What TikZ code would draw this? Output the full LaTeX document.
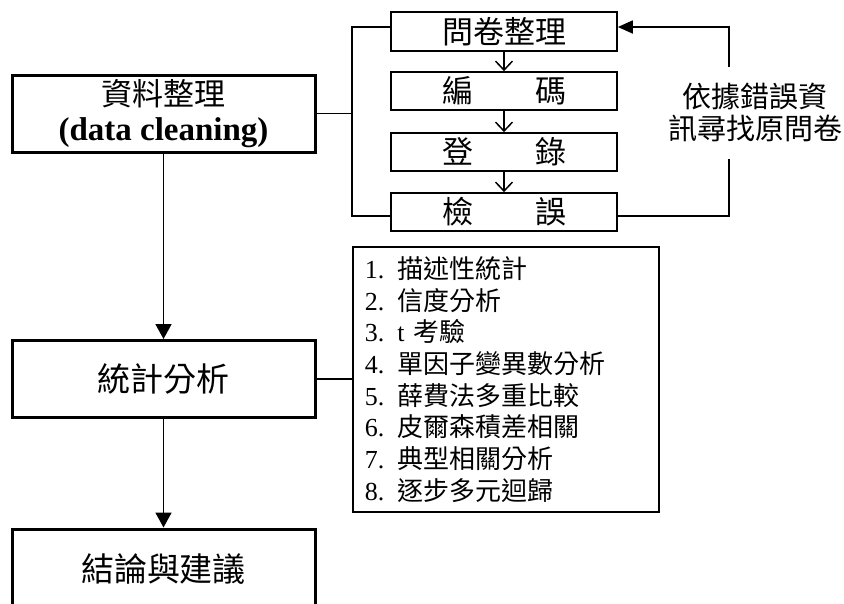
\documentclass[tikz,border=0pt]{standalone}
\usepackage{fontspec}
\setmainfont{Liberation Serif}
\newfontfamily\cjk{Noto Sans CJK TC}
\newcommand\zh[1]{{\cjk #1}}
\usetikzlibrary{arrows.meta,calc}
\begin{document}
\begin{tikzpicture}[x=1pt,y=-1pt,
  mainbox/.style={draw, line width=3pt, minimum width=303pt, minimum height=77pt, inner sep=0pt, align=center},
  subbox/.style={draw, line width=1.7pt, minimum width=226pt, minimum height=38pt, inner sep=0pt, font=\cjk\fontsize{31}{34}\selectfont},
  conn/.style={line width=1.8pt},
  bigarrow/.style={conn, -{Triangle[length=15pt,width=16pt]}},
  openarrow/.style={line width=1.5pt, -{Straight Barb[length=9pt,width=17pt]}},
]
\useasboundingbox (0,0) rectangle (844,603);

% main column
\node[mainbox, font=\cjk\fontsize{31}{35}\selectfont] (A) at (163.5,113.5)
  {資料整理\\{\rmfamily\bfseries\fontsize{33}{35}\selectfont (data cleaning)}};
\node[mainbox, font=\cjk\fontsize{33}{36}\selectfont] (B) at (163.5,379) {統計分析};
\node[mainbox, minimum height=80pt, font=\cjk\fontsize{33}{36}\selectfont] (C) at (163.5,569) {結論與建議};

% right column
\node[subbox, minimum height=39pt] (P1) at (504,31.5) {問卷整理};
\node[subbox] (P2) at (504,91) {編　　碼};
\node[subbox] (P3) at (504,152) {登　　錄};
\node[subbox] (P4) at (504,212) {檢　　誤};

% list box
\node[draw, line width=1.7pt, anchor=north west, minimum height=265pt,
      text width=282pt, inner xsep=12pt, inner ysep=0pt, align=left,
      font=\fontsize{26}{31.7}\selectfont] (L) at (352,246)
  {1. \zh{描述性統計}\\
   2. \zh{信度分析}\\
   3. t \zh{考驗}\\
   4. \zh{單因子變異數分析}\\
   5. \zh{薛費法多重比較}\\
   6. \zh{皮爾森積差相關}\\
   7. \zh{典型相關分析}\\
   8. \zh{逐步多元迴歸}};

% connectors in main column
\draw[bigarrow] (A.south) -- (B.north);
\draw[bigarrow] (B.south) -- (C.north);
\draw[conn] (B.east) -- (B.east -| L.west);

% bracket to right column
\coordinate (jt) at (352,27);
\coordinate (jb) at (352,216);
\draw[conn] (A.east) -- (A.east -| jt);
\draw[conn] (jt -| P1.west) -- (jt) -- (jb) -- (jb -| P4.west);

% arrows in right column
\draw[openarrow] (P1.south) -- (P2.north);
\draw[openarrow] (P2.south) -- (P3.north);
\draw[openarrow] (P3.south) -- (P4.north);

% feedback loop
\coordinate (ft) at (729,27);
\coordinate (fb) at (729,216);
\draw[conn, -{Triangle[length=15pt,width=13pt]}] (fb -| P4.east) -- (fb) -- (ft) -- (ft -| P1.east);
\node[fill=white, minimum height=92pt, inner sep=0pt, align=center,
      font=\cjk\fontsize{29}{31.6}\selectfont] (T) at (755,112.5)
  {依據錯誤資\\訊尋找原問卷};
\end{tikzpicture}
\end{document}
